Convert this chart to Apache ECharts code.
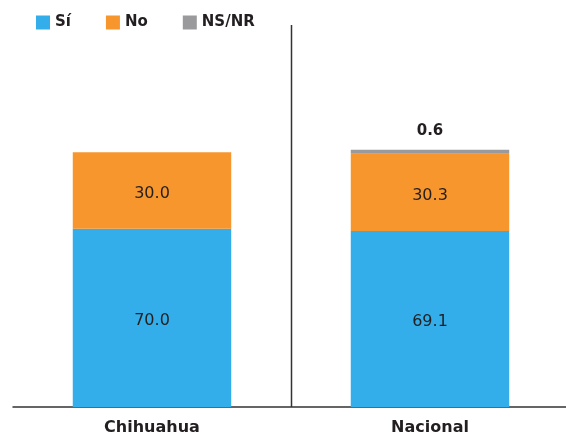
<!DOCTYPE html>
<html>
<head>
<meta charset="utf-8">
<script src="https://cdn.jsdelivr.net/npm/echarts@6/dist/echarts.min.js"></script>
<style>
  html, body { margin: 0; padding: 0; background: #fff; }
  #chart { width: 566px; height: 441px; }
</style>
</head>
<body>
<div id="chart"></div>
<script>
// Survey answers by region (percent)
const categories = ['Chihuahua', 'Nacional'];
const siValues = [70.0, 69.1];
const noValues = [30.0, 30.3];
const nsnrValues = [null, 0.6];

const textColor = '#231f20';
const fontFamily = 'DejaVu Sans, Liberation Sans, Arial, sans-serif';
const yMax = 150;

const chart = echarts.init(document.getElementById('chart'));

const insideLabel = {
  show: true,
  position: 'inside',
  offset: [0, 3],
  color: textColor,
  fontSize: 16,
  fontFamily: fontFamily,
  formatter: p => p.value.toFixed(1)
};

chart.setOption({
  animation: false,
  legend: {
    top: 10,
    left: 31,
    icon: 'rect',
    itemWidth: 14,
    itemHeight: 14,
    itemGap: 35,
    textStyle: { color: textColor, fontSize: 15, fontWeight: 'bold', fontFamily: fontFamily },
    data: ['Sí', 'No', 'NS/NR']
  },
  grid: { left: 13, width: 556, top: 25, bottom: 34, outerBoundsMode: 'none', containLabel: false },
  xAxis: {
    type: 'category',
    data: categories,
    axisLine: { lineStyle: { color: '#333', width: 1.5 } },
    axisTick: { show: false },
    axisLabel: {
      color: textColor,
      fontSize: 16,
      fontWeight: 'bold',
      fontFamily: fontFamily,
      margin: 13
    },
    splitLine: { show: false }
  },
  yAxis: {
    type: 'value',
    min: 0,
    max: yMax,
    show: false,
    splitLine: { show: false }
  },
  series: [
    {
      name: 'Sí',
      type: 'bar',
      stack: 'total',
      barWidth: '57%',
      data: siValues,
      itemStyle: { color: '#33aeeb' },
      label: insideLabel
    },
    {
      name: 'No',
      type: 'bar',
      stack: 'total',
      data: noValues,
      itemStyle: { color: '#f7962d' },
      label: insideLabel
    },
    {
      name: 'NS/NR',
      type: 'bar',
      stack: 'total',
      barMinHeight: 4,
      data: nsnrValues,
      itemStyle: { color: '#9a9a9c' },
      label: {
        show: true,
        position: 'top',
        distance: 11,
        color: textColor,
        fontSize: 15,
        fontWeight: 'bold',
        fontFamily: fontFamily,
        formatter: p => p.value.toFixed(1)
      }
    }
  ]
});

// Divider between the two categories, placed from the axis scales
const p0 = chart.convertToPixel({ gridIndex: 0 }, [0, 0]);
const p1 = chart.convertToPixel({ gridIndex: 0 }, [1, yMax]);
const midX = Math.round((p0[0] + p1[0]) / 2) + 0.5;
chart.setOption({
  graphic: [{
    type: 'line',
    shape: { x1: midX, y1: p1[1], x2: midX, y2: p0[1] },
    style: { stroke: '#333', lineWidth: 1.5 },
    silent: true
  }]
});
</script>
</body>
</html>
